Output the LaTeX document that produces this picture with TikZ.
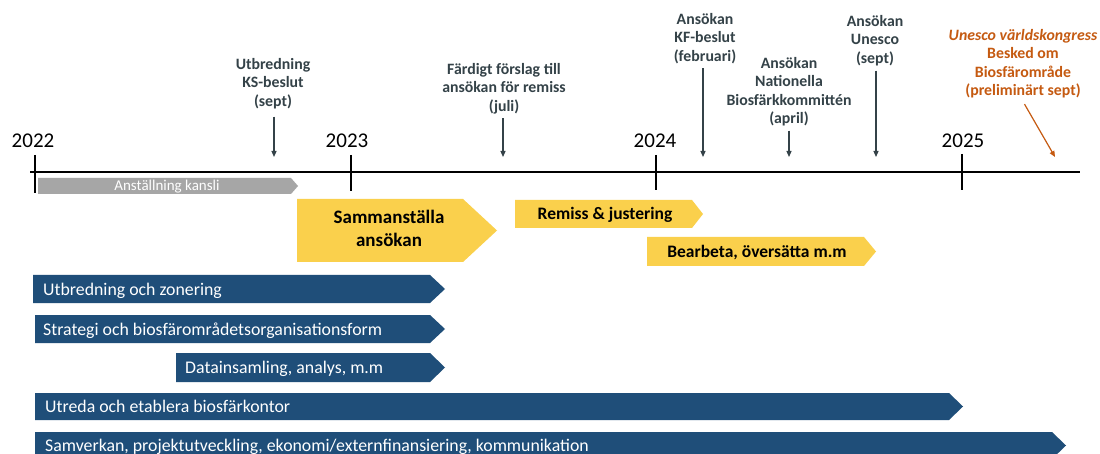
\documentclass[tikz,border=0pt]{standalone}
\usepackage{fontspec}
\setmainfont{Carlito}
\usetikzlibrary{arrows.meta}
\definecolor{slate}{RGB}{52,66,72}
\definecolor{navy}{RGB}{31,78,121}
\definecolor{gold}{RGB}{250,208,76}
\definecolor{barGray}{RGB}{166,166,166}
\definecolor{rust}{RGB}{197,90,17}
% color, x1, x body end, x tip, y top, y bottom, y mid
\newcommand\chev[7]{\fill[#1] (#2,#5) -- (#3,#5) -- (#4,#7) -- (#3,#6) -- (#2,#6) -- cycle;}
\tikzset{
  ann/.style={font=\bfseries\fontsize{15.8}{18.5}\selectfont, text=slate, align=center, inner sep=0pt, anchor=north,
              execute at begin node=\strut, execute at end node=\strut},
  arr/.style={draw=slate, line width=1.2pt, -{Triangle[length=6pt,width=5pt]}},
  yr/.style={font=\fontsize{21}{24}\selectfont, inner sep=0pt, anchor=center},
  tick/.style={line width=1.6pt},
  bluetxt/.style={font=\fontsize{17.8}{20}\selectfont, text=white, inner sep=0pt, anchor=base west},
  goldtxt/.style={font=\bfseries\fontsize{17.5}{21}\selectfont, text=black, inner sep=0pt, anchor=base},
}
\begin{document}
\begin{tikzpicture}[x=1pt,y=-1pt]
\clip (0,0) rectangle (1100,454);
\fill[white] (0,0) rectangle (1100,454);

% timeline
\draw[line width=1.8pt] (30,172) -- (1080,172);
\draw[tick] (35,155) -- (35,193);
\draw[tick] (351,155) -- (351,191);
\draw[tick] (656,155) -- (656,190);
\draw[tick] (962,154) -- (962,190);

\node[yr] (y22) at (33,140.5) {2022};
\node[yr] (y23) at (347,140.5) {2023};
\node[yr] (y24) at (655,140.5) {2024};
\node[yr] (y25) at (963,140.5) {2025};

% annotations
\node[ann] (t1) at (273,58) {Utbredning\\KS-beslut\\(sept)};
\node[ann] (t2) at (504,63) {Färdigt förslag till\\ansökan för remiss\\(juli)};
\node[ann] (t3) at (705,13) {Ansökan\\KF-beslut\\(februari)};
\node[ann] (t4) at (789,57) {Ansökan\\Nationella\\Biosfärkkommittén\\(april)};
\node[ann] (t5) at (875,15) {Ansökan\\Unesco\\(sept)};
\node[ann, text=rust] (t6) at (1023,29) {\textit{Unesco världskongress}\\Besked om\\Biosfärområde\\(preliminärt sept)};

\coordinate (e1) at (274,157);
\coordinate (e2) at (503,157);
\coordinate (e3) at (703,157);
\coordinate (e4) at (789,157);
\coordinate (e5) at (876,157);
\coordinate (e6) at (1055,157);

\draw[arr, shorten <=4.5pt] (t1.south -| e1) -- (e1);
\draw[arr, shorten <=1pt] (t2.south -| e2) -- (e2);
\draw[arr, shorten <=1pt] (t3.south -| e3) -- (e3);
\draw[arr, shorten <=1pt] (t4.south -| e4) -- (e4);
\draw[arr, shorten <=1.5pt] (t5.south -| e5) -- (e5);
\draw[arr, draw=rust, shorten <=3pt] (t6.south) -- (e6);

% grey bar
\chev{barGray}{38}{291}{298}{178}{194}{186}
\node[font=\fontsize{15}{16}\selectfont, text=white, inner sep=0pt, anchor=base] (g1) at (167,191) {Anställning kansli};

% gold arrows
\chev{gold}{297}{463}{497}{199}{262}{230.5}
\node[font=\bfseries\fontsize{19}{23}\selectfont, align=center, inner sep=0pt, anchor=north,
      execute at begin node=\strut] (s1) at (389,210) {Sammanställa\\ansökan};
\chev{gold}{515}{692}{703}{200}{228}{214}
\node[goldtxt] (s2) at (605,219.5) {Remiss \& justering};
\chev{gold}{647}{864}{876}{237}{266}{251.5}
\node[goldtxt] (s3) at (757,257.5) {Bearbeta, översätta m.m};

% blue bars
\chev{navy}{33}{430}{445}{275}{303}{289}
\node[bluetxt] (b1) at (43,295) {Utbredning och zonering};
\chev{navy}{35}{430}{445}{315}{343}{329}
\node[bluetxt] (b2) at (43,335) {Strategi och biosfärområdetsorganisationsform};
\chev{navy}{176}{430}{445}{353}{382}{367.5}
\node[bluetxt] (b3) at (185,373.5) {Datainsamling, analys, m.m};
\chev{navy}{35}{949}{963}{393}{420}{406.5}
\node[bluetxt] (b4) at (45,412.5) {Utreda och etablera biosfärkontor};
\chev{navy}{35}{1052}{1066}{432}{459}{445.5}
\node[bluetxt] (b5) at (45,451) {Samverkan, projektutveckling, ekonomi/externfinansiering, kommunikation};
\end{tikzpicture}
\end{document}
